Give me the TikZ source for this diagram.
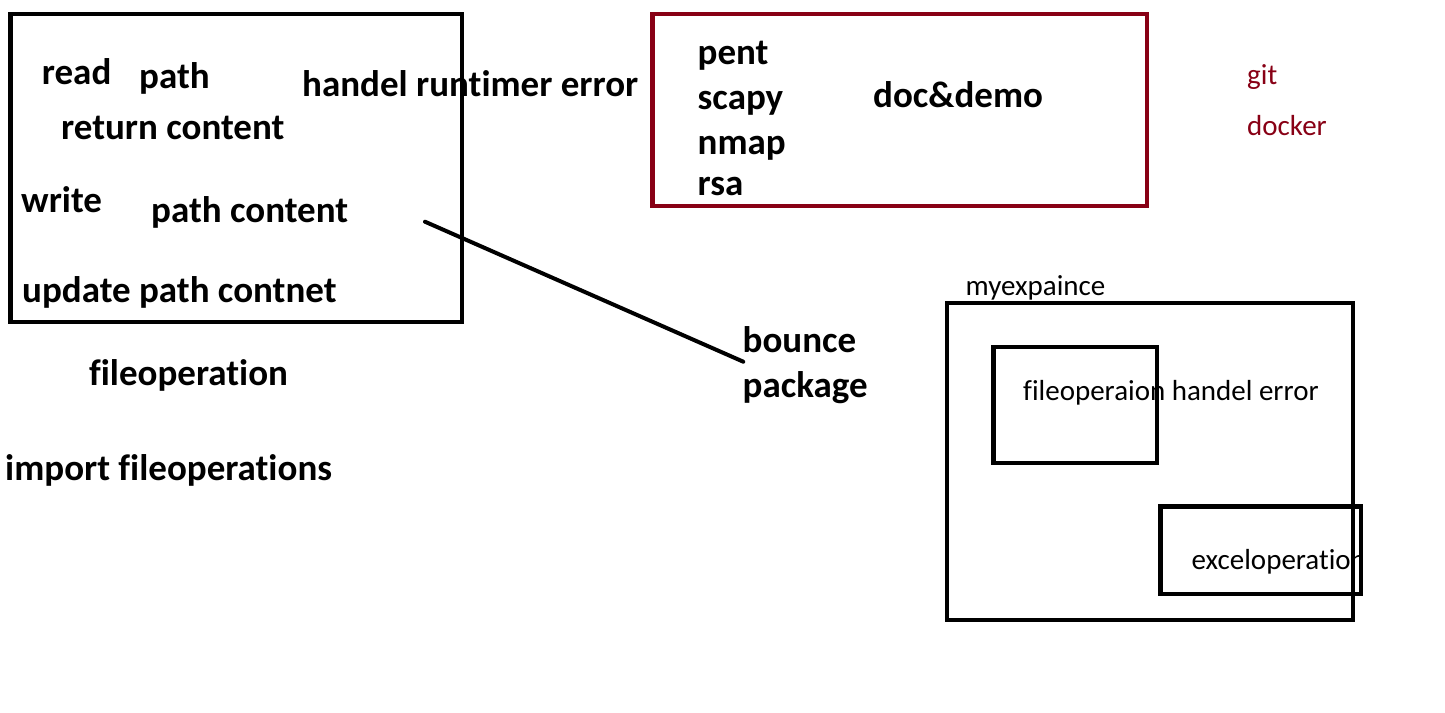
\documentclass[tikz,border=0pt]{standalone}
\usepackage{fontspec}
\setmainfont{Carlito}[RawFeature={-liga;-clig}]
\definecolor{pdarkred}{RGB}{136,0,21}
\tikzset{
  bt/.style={anchor=base west, inner sep=0pt, font=\fontsize{37}{44}\selectfont\bfseries},
  rt/.style={anchor=base west, inner sep=0pt, font=\fontsize{29}{35}\selectfont},
  box/.style={draw=black, line width=4.5pt, inner sep=0pt, outer sep=0pt, rectangle},
  redbox/.style={box, draw=pdarkred},
  conn/.style={draw=black, line width=4pt, line cap=round}
}
\begin{document}
\begin{tikzpicture}[x=1pt,y=-1pt]
\useasboundingbox[fill=white] (0,0) rectangle (1445,712);
% left box texts
\node[bt] (read) at (41.7,84) {read};
\node[bt] (path) at (139,88.5) {path};
\node[bt] (handel) at (302,96) {handel runtimer error};
\node[bt] (ret) at (61,139.5) {return content};
\node[bt] (write) at (21,212.5) {write};
\node[bt] (pathc) at (151,222.5) {path content};
\node[bt] (upd) at (22,302.5) {update path contnet};
\node[bt] (fileop) at (89,385.5) {fileoperation};
\node[bt] (imp) at (5,480.5) {import fileoperations};
\node[bt] (bounce) at (742.5,352.5) {bounce};
\node[bt] (package) at (742.5,397.5) {package};
% red box texts
\node[bt] (pent) at (697.5,64) {pent};
\node[bt] (scapy) at (697.5,109) {scapy};
\node[bt] (nmap) at (697.5,154) {nmap};
\node[bt] (rsa) at (697.5,195.5) {rsa};
\node[bt] (doc) at (873,107.5) {doc\&demo};
\node[rt, text=pdarkred] (git) at (1247,84.3) {git};
\node[rt, text=pdarkred] (docker) at (1247,135.5) {docker};
% right texts
\node[rt] (myexp) at (965.5,295.5) {myexpaince};
\node[rt] (fhe) at (1023,400.5) {fileoperaion handel error};
\begin{scope}
\clip (1150,520) rectangle (1361,600);
\node[rt] (excel) at (1191.5,569) {exceloperation};
\end{scope}
% boxes
\node[box, minimum width=451.5pt, minimum height=308pt] (fbox) at (236.25,168) {};
\node[redbox, minimum width=494.5pt, minimum height=192pt] (rbox) at (899.75,110) {};
\node[box, minimum width=406pt, minimum height=317pt] (bigbox) at (1150,461.5) {};
\node[box, minimum width=163.3pt, minimum height=116pt] (in1) at (1075.35,405) {};
\node[box, minimum width=200.5pt, minimum height=87.3pt] (in2) at (1260.75,550.35) {};
% connector
\coordinate (c1) at (425,221.7);
\coordinate (c2) at (743.3,361.7);
\draw[conn] (c1) -- (c2);
\end{tikzpicture}
\end{document}
